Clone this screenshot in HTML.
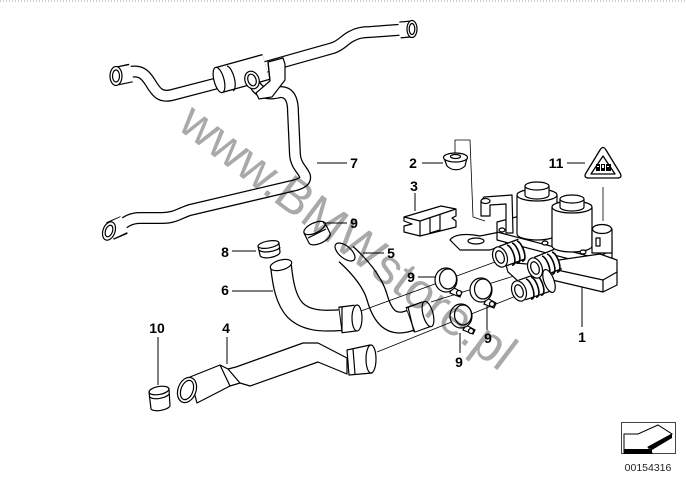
<!DOCTYPE html>
<html><head><meta charset="utf-8">
<style>
html,body{margin:0;padding:0;background:#fff;}
svg{display:block;}
.l{font-family:"Liberation Sans",Arial,sans-serif;font-weight:bold;font-size:14px;fill:#000;text-anchor:middle;}
.wm{font-family:"Liberation Sans",Arial,sans-serif;font-size:50px;fill:#a9a9a9;mix-blend-mode:multiply;}
</style></head><body>
<svg width="686" height="484" viewBox="0 0 686 484" xmlns="http://www.w3.org/2000/svg">
<rect width="686" height="484" fill="#fff"/>
<line x1="0" y1="1" x2="686" y2="1" stroke="#999" stroke-width="1" stroke-dasharray="1 2"/>

<!-- ===== Hose 7 ===== -->
<g fill="none" stroke-linejoin="round">
  <path d="M130 72 C140 70 145 74 150 82 C156 92 160 98 172 95 L222 82" stroke="#000" stroke-width="12"/>
  <path d="M130 72 C140 70 145 74 150 82 C156 92 160 98 172 95 L222 82" stroke="#fff" stroke-width="9.5"/>
  <path d="M262 68 L333 48 C342 45 345 39 352 36 C357 33 362 32 370 32 L411 29" stroke="#000" stroke-width="12"/>
  <path d="M262 68 L333 48 C342 45 345 39 352 36 C357 33 362 32 370 32 L411 29" stroke="#fff" stroke-width="9.5"/>
  <path d="M252 78 C256 92 266 96 280 92 C290 92 293 100 293 112 L295 155 C296 166 303 170 305 176 C306 181 302 183 296 185 L190 210 C180 213 175 218 162 218 L140 218 C130 218 125 222 116 229" stroke="#000" stroke-width="12"/>
  <path d="M252 78 C256 92 266 96 280 92 C290 92 293 100 293 112 L295 155 C296 166 303 170 305 176 C306 181 302 183 296 185 L190 210 C180 213 175 218 162 218 L140 218 C130 218 125 222 116 229" stroke="#fff" stroke-width="9.5"/>
  <line x1="400" y1="30" x2="411" y2="29" stroke="#000" stroke-width="17"/>
  <line x1="399" y1="30" x2="411" y2="29" stroke="#fff" stroke-width="14.5"/>
  <line x1="131" y1="73" x2="117" y2="76" stroke="#000" stroke-width="19"/>
  <line x1="132" y1="73" x2="117" y2="76" stroke="#fff" stroke-width="16.5"/>
  <line x1="124" y1="225" x2="110" y2="231" stroke="#000" stroke-width="19"/>
  <line x1="125" y1="224" x2="110" y2="231" stroke="#fff" stroke-width="16.5"/>
  <line x1="219" y1="80" x2="266" y2="67" stroke="#000" stroke-width="27"/>
  <line x1="219" y1="80" x2="266" y2="67" stroke="#fff" stroke-width="24.5"/>
</g>
<g fill="#fff" stroke="#000" stroke-width="1.2">
  <ellipse cx="412" cy="29" rx="5" ry="8.5"/>
  <ellipse cx="412" cy="29" rx="2.8" ry="5.5"/>
  <ellipse cx="116" cy="76" rx="6" ry="9.5"/>
  <ellipse cx="116" cy="76" rx="3.5" ry="6"/>
  <ellipse cx="109" cy="231" rx="6" ry="9.5" transform="rotate(20 109 231)"/>
  <ellipse cx="109" cy="231" rx="3.5" ry="6" transform="rotate(20 109 231)"/>
  <ellipse cx="219" cy="80" rx="5" ry="13" transform="rotate(-15 219 80)"/>
  <path d="M227 66 A5 13 -15 0 1 233 91" fill="none"/>
  <ellipse cx="252" cy="80" rx="7" ry="9" transform="rotate(-20 252 80)"/>
  <ellipse cx="252" cy="80" rx="4" ry="6" transform="rotate(-20 252 80)"/>
  <path d="M268 62 L283 58 L285 64 L285 80 L272 97 L259 99 L256 93 L270 81 Z"/>
  <path d="M270 81 L268 62" fill="none"/>
</g>

<!-- ===== Hose 6 & 5 ===== -->
<g fill="none" stroke-linejoin="round">
  <path d="M281 266 C283 285 286 300 295 310 C305 320 320 322 342 320" stroke="#000" stroke-width="22"/>
  <path d="M281 266 C283 285 286 300 295 310 C305 320 320 322 342 320" stroke="#fff" stroke-width="19.5"/>
  <line x1="340" y1="320" x2="356" y2="318" stroke="#000" stroke-width="27"/>
  <line x1="341" y1="320" x2="356" y2="318" stroke="#fff" stroke-width="24.5"/>
  <path d="M346 254 C358 265 372 280 377 297 C382 315 390 325 405 322 L412 320" stroke="#000" stroke-width="22"/>
  <path d="M346 254 C358 265 372 280 377 297 C382 315 390 325 405 322 L412 320" stroke="#fff" stroke-width="19.5"/>
  <line x1="410" y1="320" x2="427" y2="314" stroke="#000" stroke-width="27"/>
  <line x1="411" y1="320" x2="427" y2="314" stroke="#fff" stroke-width="24.5"/>
</g>
<g fill="#fff" stroke="#000" stroke-width="1.2">
  <ellipse cx="281" cy="265" rx="11" ry="5" transform="rotate(-15 281 265)"/>
  <ellipse cx="357" cy="318" rx="5" ry="13"/>
  <path d="M342 307 L342 333" fill="none"/>
  <ellipse cx="345" cy="252" rx="12" ry="6" transform="rotate(40 345 252)"/>
  <ellipse cx="428" cy="314" rx="5" ry="13" transform="rotate(-15 428 314)"/>
  <path d="M408 307 L414 332" fill="none"/>
</g>

<!-- ===== Hose 4 ===== -->
<g fill="#fff" stroke="#000" stroke-width="1.2" stroke-linejoin="round">
  <path d="M190 377 L220 365 L228 369 L236 367 L303 343 L318 343 L347 358 L347 374 L318 362 L250 386 L240 383 L230 386 L197 403 Z"/>
  <path d="M220 365 L230 386 M228 369 L240 383" fill="none"/>
  <ellipse cx="187" cy="390" rx="9" ry="13" transform="rotate(20 187 390)"/>
  <ellipse cx="187" cy="390" rx="6" ry="10" transform="rotate(20 187 390)"/>
  <path d="M347 350 L370 345 L372 373 L349 375 Z"/>
  <ellipse cx="371" cy="359" rx="5" ry="14"/>
  <path d="M353 349 L355 374" fill="none"/>
</g>

<!-- ===== Rings 8, 9, 10 ===== -->
<g fill="#fff" stroke="#000" stroke-width="1.2">
  <path d="M258 246 L260 255 A10 4 -10 0 0 280 252 L279 243 Z"/>
  <ellipse cx="268.5" cy="244.5" rx="10.5" ry="3.5" transform="rotate(-10 268.5 244.5)"/>
  <path d="M260 250 A10 3 -10 0 0 280 247" fill="none"/>
  <path d="M304 233 L309 243 A11 5 -25 0 0 330 233 L325 223 Z"/>
  <ellipse cx="314.5" cy="228" rx="11.5" ry="5" transform="rotate(-25 314.5 228)"/>
  <path d="M308 238 L326 229" fill="none"/>
  <path d="M149 392 L151 409 A10 4 -10 0 0 170 406 L169 389 Z"/>
  <ellipse cx="159" cy="390.5" rx="10" ry="4" transform="rotate(-10 159 390.5)"/>
  <path d="M150 397 A10 4 -10 0 0 169 394" fill="none"/>
</g>

<!-- ===== Thin leader lines to fittings ===== -->
<g stroke="#000" stroke-width="0.8" fill="none">
  <line x1="361" y1="311" x2="495" y2="262"/>
  <line x1="431" y1="302" x2="530" y2="271"/>
  <line x1="377" y1="352" x2="516" y2="296"/>
  <polyline points="455,153 455,140 470,140 473,217 485,221"/>
  <line x1="603" y1="187" x2="603" y2="221"/>
</g>

<!-- ===== Valve assembly 1 ===== -->
<g fill="#fff" stroke="#000" stroke-width="1.2" stroke-linejoin="round">
  <path d="M450 240 C455 233 470 234 480 236 L500 232 L506 244 L490 250 L460 250 Z"/>
  <ellipse cx="476" cy="241" rx="8" ry="3"/>
  <path d="M497 222 L520 216 L600 243 L612 241 L612 258 L596 266 L497 240 Z"/>
  <path d="M497 232 L596 258 L612 250" fill="none"/>
  <path d="M481 201 L484 197 L512 195 L513 233 L506 233 L506 204 L490 205 L490 216 L481 216 Z"/>
  <ellipse cx="485.5" cy="201" rx="4.5" ry="2.5"/>
  <path d="M545 262 L600 254 L617 260 L617 285 L603 292 L548 279 Z"/>
  <path d="M548 268 L603 280 L617 272 M603 280 L603 292" fill="none"/>
  <path d="M505 262 L548 266 L550 280 L530 292 L508 272 Z"/>
  <path d="M517 195 L517 234 A20 6 0 0 0 557 234 L557 195 Z"/>
  <ellipse cx="537" cy="195" rx="20" ry="6"/>
  <path d="M525 186 L525 195 A12 4 0 0 0 549 195 L549 186 Z"/>
  <ellipse cx="537" cy="186" rx="12" ry="4"/>
  <path d="M552 207 L552 246 A20 6 0 0 0 592 246 L592 207 Z"/>
  <ellipse cx="572" cy="207" rx="20" ry="6"/>
  <path d="M560 199 L560 207 A12 4 0 0 0 584 207 L584 199 Z"/>
  <ellipse cx="572" cy="199" rx="12" ry="4"/>
  <ellipse cx="502" cy="230" rx="3" ry="2"/>
  <ellipse cx="545" cy="243" rx="3" ry="2"/>
  <ellipse cx="583" cy="252" rx="3" ry="2"/>
  <path d="M592 229 L592 253 L612 253 L612 229 Z"/>
  <ellipse cx="602" cy="229" rx="9.5" ry="4.5"/>
  <path d="M596 238 L600 238 L600 246 L596 246 Z"/>
</g>
<g fill="none" stroke-linejoin="round">
  <line x1="503" y1="256" x2="522" y2="249" stroke="#000" stroke-width="22"/>
  <line x1="503" y1="256" x2="522" y2="249" stroke="#fff" stroke-width="19.5"/>
  <line x1="538" y1="267" x2="558" y2="259" stroke="#000" stroke-width="22"/>
  <line x1="538" y1="267" x2="558" y2="259" stroke="#fff" stroke-width="19.5"/>
  <line x1="522" y1="290" x2="548" y2="281" stroke="#000" stroke-width="22"/>
  <line x1="522" y1="290" x2="548" y2="281" stroke="#fff" stroke-width="19.5"/>
</g>
<g fill="none" stroke="#000" stroke-width="1.6">
  <path d="M507 245 A4 10 -20 0 1 512 265 M512 243 A4 10 -20 0 1 517 263 M517 241 A4 10 -20 0 1 522 261"/>
  <path d="M542 256 A4 10 -20 0 1 547 276 M547 254 A4 10 -20 0 1 552 274 M552 252 A4 10 -20 0 1 557 272"/>
  <path d="M526 279 A4 10 -20 0 1 531 299 M531 277 A4 10 -20 0 1 536 297 M536 275 A4 10 -20 0 1 541 295"/>
</g>
<g fill="#fff" stroke="#000" stroke-width="1.2">
  <ellipse cx="549" cy="281" rx="5" ry="12" transform="rotate(-20 549 281)"/>
  <ellipse cx="500" cy="257" rx="7" ry="10.5" transform="rotate(-20 500 257)"/>
  <ellipse cx="500" cy="257" rx="4" ry="6.5" transform="rotate(-20 500 257)"/>
  <ellipse cx="535" cy="268" rx="7" ry="10.5" transform="rotate(-20 535 268)"/>
  <ellipse cx="535" cy="268" rx="4" ry="6.5" transform="rotate(-20 535 268)"/>
  <ellipse cx="519" cy="291" rx="7" ry="10.5" transform="rotate(-20 519 291)"/>
  <ellipse cx="519" cy="291" rx="4" ry="6.5" transform="rotate(-20 519 291)"/>
</g>

<!-- ===== Clamps 9 ===== -->
<g fill="#fff" stroke="#000" stroke-width="1.2">
  <path d="M452 287 L462 292 L460 297 L450 293 Z"/>
  <ellipse cx="446" cy="280" rx="11" ry="12"/>
  <ellipse cx="448" cy="279" rx="8.5" ry="10"/>
  <circle cx="459" cy="293" r="2.5"/>
  <path d="M487 298 L496 303 L494 308 L484 304 Z"/>
  <ellipse cx="481" cy="290" rx="11" ry="12"/>
  <ellipse cx="483" cy="289" rx="8.5" ry="10"/>
  <circle cx="492" cy="304" r="2.5"/>
  <path d="M466 325 L475 330 L473 334 L463 330 Z"/>
  <ellipse cx="461" cy="316" rx="11" ry="12"/>
  <ellipse cx="463" cy="315" rx="8.5" ry="10"/>
  <circle cx="471" cy="331" r="2.5"/>
</g>

<!-- ===== Clip 3 ===== -->
<g fill="#fff" stroke="#000" stroke-width="1.2" stroke-linejoin="round">
  <path d="M404 217 L441 206 L456 209 L456 216 L452 218 L456 221 L456 227 L420 236 L404 232 L404 226 L412 224 L404 221 Z"/>
  <path d="M404 217 L420 221 L456 209 M420 221 L420 236 M430 218 L430 233 L440 230 L440 215" fill="none"/>
</g>

<!-- ===== Grommet 2 ===== -->
<g fill="#fff" stroke="#000" stroke-width="1.2">
  <path d="M444 158 L447 166 C452 171 460 171 465 166 L467 158 Z"/>
  <ellipse cx="455.5" cy="157.5" rx="12" ry="4.5"/>
  <ellipse cx="455.5" cy="156.5" rx="5" ry="2"/>
</g>

<!-- ===== Warning triangle 11 ===== -->
<g fill="#fff" stroke="#000" stroke-width="1.3" stroke-linejoin="round">
  <path d="M600 150 Q603 145 606 150 L620 173 Q623 178 617 178 L589 178 Q583 178 586 173 Z"/>
  <path d="M603 156 L615 174 L591 174 Z"/>
</g>
<g fill="#000">
  <rect x="596" y="164" width="4" height="7"/>
  <rect x="601" y="164" width="4" height="7"/>
  <rect x="606" y="164" width="5" height="7"/>
</g>
<g fill="#fff">
  <rect x="597" y="166" width="2" height="1"/>
  <rect x="602" y="165" width="2" height="3"/>
  <rect x="607" y="166" width="2" height="1"/>
</g>

<!-- ===== Label leaders ===== -->
<g stroke="#000" stroke-width="1">
  <line x1="317" y1="163" x2="347" y2="163"/>
  <line x1="422" y1="163" x2="443" y2="163"/>
  <line x1="567" y1="163" x2="585" y2="163"/>
  <line x1="415" y1="193" x2="415" y2="211"/>
  <line x1="323" y1="223" x2="347" y2="223"/>
  <line x1="232" y1="251" x2="256" y2="251"/>
  <line x1="363" y1="253" x2="384" y2="253"/>
  <line x1="418" y1="277" x2="436" y2="277"/>
  <line x1="232" y1="291" x2="273" y2="291"/>
  <line x1="158" y1="337" x2="158" y2="385"/>
  <line x1="227" y1="337" x2="227" y2="364"/>
  <line x1="582" y1="287" x2="582" y2="327"/>
  <line x1="487" y1="306" x2="487" y2="330"/>
  <line x1="460" y1="333" x2="460" y2="353"/>
</g>

<!-- ===== Labels ===== -->
<text class="l" x="354" y="168">7</text>
<text class="l" x="413" y="168">2</text>
<text class="l" x="556" y="168">11</text>
<text class="l" x="414" y="191">3</text>
<text class="l" x="354" y="228">9</text>
<text class="l" x="225" y="257">8</text>
<text class="l" x="391" y="258">5</text>
<text class="l" x="411" y="282">9</text>
<text class="l" x="225" y="295">6</text>
<text class="l" x="157" y="333">10</text>
<text class="l" x="226" y="333">4</text>
<text class="l" x="582" y="342">1</text>
<text class="l" x="488" y="343">9</text>
<text class="l" x="459" y="367">9</text>

<!-- ===== Bottom-right icon ===== -->
<rect x="621.5" y="422.5" width="54" height="31" fill="none" stroke="#444" stroke-width="1"/>
<path d="M624 434 L638 434 L658 425 L672 434 L648 447 L652 453 L624 453 Z" fill="#fff" stroke="#000" stroke-width="1"/>
<rect x="624" y="449" width="28" height="5" fill="#000"/>
<path d="M648 447 L672 434 L672 438 L652 450 Z" fill="#000"/>
<text x="648" y="471" font-family="Liberation Sans, Arial, sans-serif" font-size="10.5" fill="#222" text-anchor="middle">00154316</text>

<!-- ===== Watermark ===== -->
<text class="wm" x="0" y="0" transform="translate(176 128) rotate(37)">www.BMWstore.pl</text>
</svg>
</body></html>
